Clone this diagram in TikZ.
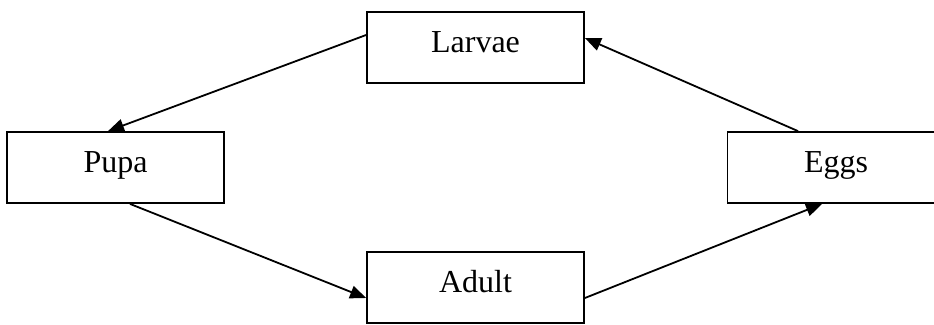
\documentclass[tikz,border=0pt]{standalone}
\usepackage{fontspec}
\setmainfont{Liberation Serif}
\usetikzlibrary{arrows.meta}
\begin{document}
\begin{tikzpicture}[x=1pt,y=-1pt,
  stage/.style={draw=black,line width=1.8pt,rectangle,inner sep=0pt,
    minimum width=217pt,text height=40pt,text depth=31pt,
    font=\fontsize{32}{38}\selectfont},
  link/.style={line width=1.8pt,-{Triangle[length=16pt,width=13pt]}}]
\useasboundingbox (0,0) rectangle (934,324);
\node[stage] (L) at (475.5,47.5) {Larvae};
\node[stage] (P) at (115.5,167.5) {Pupa};
\node[stage] (E) at (836,167.5) {Eggs};
\node[stage] (A) at (475.5,287.5) {Adult};
\draw[link] ([yshift=12.5pt]L.west) -- ([xshift=-7.5pt]P.north);
\draw[link] ([xshift=14.5pt]P.south) -- ([yshift=-10.5pt]A.west);
\draw[link] ([yshift=-10.5pt]A.east) -- ([xshift=-14pt]E.south);
\draw[link] ([xshift=-38pt]E.north) -- ([yshift=9.5pt]L.east);
\end{tikzpicture}
\end{document}
